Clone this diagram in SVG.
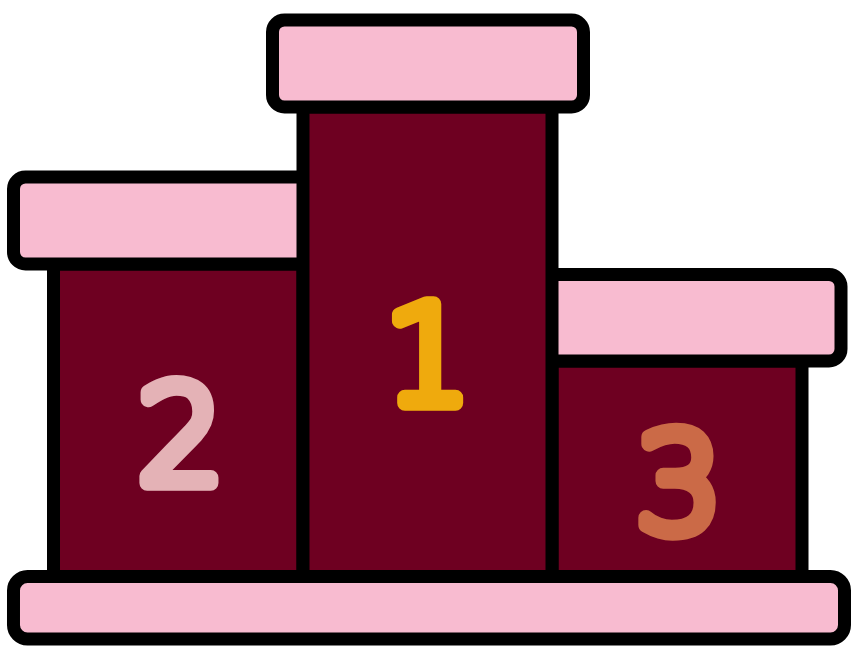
<svg xmlns="http://www.w3.org/2000/svg" width="857" height="658" viewBox="0 0 857 658">
<style>
.base{fill:#6e0021;stroke:#000;stroke-width:13}
.top{fill:#f8bbd0;stroke:#000;stroke-width:13;stroke-linejoin:round}
.n{font-family:"DejaVu Sans Light","DejaVu Sans",sans-serif;font-size:136px;font-weight:200;text-anchor:middle;stroke-width:15.500;stroke-linejoin:round;stroke-linecap:round}
</style>
<rect width="857" height="658" fill="#fff"/>
<g id="step-2">
<rect class="base" x="53.500" y="264" width="249.500" height="313"/>
<rect class="top" x="13.500" y="177" width="320" height="87" rx="12"/>
<text class="n" x="181" y="483" fill="#e4b2b6" stroke="#e4b2b6">2</text>
</g>
<g id="step-3">
<rect class="base" x="552" y="361" width="250" height="216"/>
<rect class="top" x="520" y="274.500" width="321" height="86.500" rx="12"/>
<text class="n" x="679" y="531" fill="#cb6a47" stroke="#cb6a47">3</text>
</g>
<g id="step-1">
<rect class="base" x="303" y="107" width="249" height="470"/>
<rect class="top" x="272.500" y="20" width="311" height="87" rx="12"/>
<text class="n" x="428" y="403" fill="#efaa0d" stroke="#efaa0d">1</text>
</g>
<g id="floor">
<rect class="top" x="13.500" y="576.500" width="831" height="62.500" rx="14"/>
</g>
</svg>
